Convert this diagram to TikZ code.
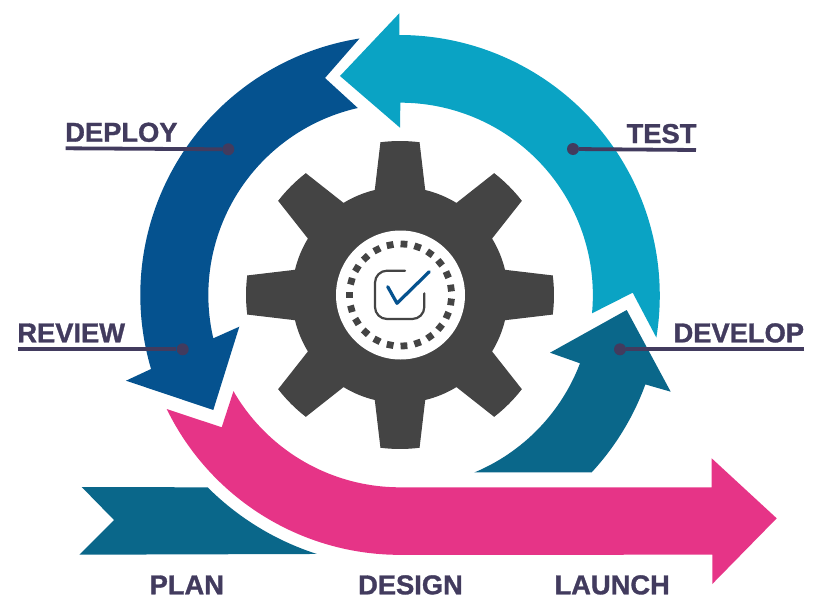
\documentclass[tikz,border=0pt]{standalone}
\usepackage{fontspec}
\setmainfont{Liberation Sans}[BoldFeatures={FakeBold=1.2}]
\definecolor{cblue}{HTML}{05528F}
\definecolor{ccyan}{HTML}{0AA3C4}
\definecolor{cteal}{HTML}{0A678A}
\definecolor{cpink}{HTML}{E63487}
\definecolor{cgear}{HTML}{444444}
\definecolor{cink}{HTML}{423B5E}
\tikzset{
  lab/.style={text=cink,font=\fontsize{27.3}{29}\selectfont\bfseries,inner sep=0pt,anchor=base},
  leaderdot/.style={circle,fill=cink,minimum size=12pt,inner sep=0pt},
  leader/.style={draw=cink,line width=3.8pt},
  dashsq/.style={fill=cgear}
}
\begin{document}
\begin{tikzpicture}[x=1pt,y=1pt]
\useasboundingbox (-400,-316) rectangle (422,295);
% PLAN ribbon
\fill[cteal] (-318.3,-192) -- (225:272) arc[start angle=225,end angle=252.2,radius=272] -- (-320.7,-259.7) -- (-286,-225) -- cycle;
% pink arrow
\fill[cpink] (-233.3,-114) arc[start angle=206,end angle=270,radius=259.7] -- (312.3,-259.7) -- (312.3,-289) -- (376.7,-223.3) -- (311.7,-163.3) -- (311.7,-192.3) -- (0,-192.3) arc[start angle=270,end angle=210,radius=192.3] -- (-178.3,-132.3) -- cycle;
% develop arrow
\fill[cteal] (74,-177.3) -- (191.7,-177.3) arc[start angle=-42.8,end angle=-20,radius=260.5] -- (270.7,-96.7) -- (226.7,-15) -- (150,-57.7) -- (180,-68.3) arc[start angle=-20.8,end angle=-67.3,radius=192.3] -- cycle;
% test arrow
\fill[ccyan] (-60,219) -- (-0.7,281.7) -- (-0.7,260) arc[start angle=90,end angle=-9.3,radius=260.5] -- (232.7,2.3) -- (192,-18.3) arc[start angle=-5.4,end angle=90,radius=192.5] -- (0,167.3) -- cycle;
% deploy/review arrow
\fill[cblue] (-40.5,256.5) arc[start angle=98.97,end angle=196.55,radius=259.7] -- (-274,-85.7) -- (-186.7,-115) -- (-160.7,-31.7) -- (-186.7,-43.3) arc[start angle=193.06,end angle=102.73,radius=191.7] -- (-75,217) -- cycle;
% gear
\fill[cgear] (-13.5:108)
  foreach \a in {0,45,...,315} {
    -- (\a-13.5:108) -- (\a-7.3:154)
    arc[start angle=\a-7.3,end angle=\a+7.3,radius=154]
    -- (\a+13.5:108)
    arc[start angle=\a+13.5,end angle=\a+31.5,radius=108]
  } -- cycle;
\fill[white] (0.5,0) circle[radius=64.5];
\foreach \i in {0,...,22}
  \fill[dashsq,shift={(0.5,0)},rotate=90-\i*15.652] (-3.4,47.6) rectangle (3.4,54.4);
% check icon
\draw[cgear,line width=2.2pt,line cap=round,rounded corners=12pt] (5,24.3) -- (-25,24.3) -- (-25,-24) -- (24.3,-24) -- (24.3,1.7);
\draw[cblue,line width=3.2pt,line cap=round,line join=round] (-12.3,8.3) -- (-3,-8.3) -- (29.3,23.3);
% leaders
\node[leaderdot] (deploydot) at (-171.7,145.7) {};
\node[leaderdot] (testdot) at (173,146) {};
\node[leaderdot] (reviewdot) at (-217.3,-54.3) {};
\node[leaderdot] (developdot) at (220,-54.3) {};
\coordinate (deployend) at (-334.3,146.7);
\coordinate (testend) at (296,145);
\coordinate (reviewend) at (-382.3,-54.3);
\coordinate (developend) at (404,-54.3);
\draw[leader] (deployend) -- (deploydot);
\draw[leader] (testend) -- (testdot);
\draw[leader] (reviewend) -- (reviewdot);
\draw[leader] (developend) -- (developdot);
% labels
\node[lab] (deploy) at (-278.6,153.3) {DEPLOY};
\node[lab] (test) at (261.5,152) {TEST};
\node[lab] (review) at (-328.8,-47.3) {REVIEW};
\node[lab] (develop) at (338.8,-47.3) {DEVELOP};
\node[lab] (plan) at (-213.2,-299.3) {PLAN};
\node[lab] (design) at (10.5,-299.3) {DESIGN};
\node[lab] (launch) at (212.2,-299.3) {LAUNCH};
\end{tikzpicture}
\end{document}
